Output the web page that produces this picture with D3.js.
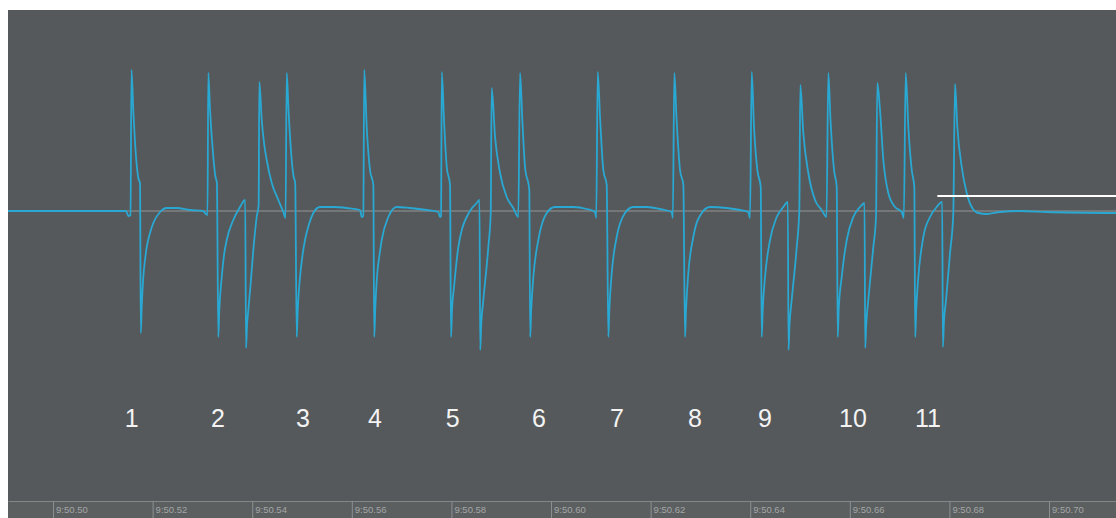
<!DOCTYPE html>
<html>
<head>
<meta charset="utf-8">
<script src="https://cdn.jsdelivr.net/npm/d3@7"></script>
<style>
  html, body { margin: 0; padding: 0; background: #ffffff; }
  svg { display: block; }
</style>
</head>
<body>
<svg id="chart" width="1116" height="518"></svg>
<script>
// Recorded trace: time in ms after 9:50.50, amplitude in mV
const traceTime = [
  -9.04, 14.66, 15.12, 15.56, 15.76, 16.12, 16.67, 17.13, 17.47, 17.63, 17.81, 18.13, 18.47, 18.82, 19.48, 20.14, 21.49, 22.83, 24.84, 27.51, 30.12, 30.72,
  31.02, 31.18, 31.53, 32.19, 32.59, 32.91, 33.19, 33.39, 33.88, 34.34, 34.88, 36.20, 37.55, 38.59,
  38.76, 38.96, 39.22, 39.66, 40.22, 40.90, 41.29, 41.43, 41.91, 42.37, 42.91, 43.92, 45.24, 46.24, 46.69,
  46.93, 47.29, 47.93, 48.29, 48.63, 48.94, 49.14, 49.60, 50.10, 50.60, 51.41, 52.27, 53.61, 56.29, 58.98, 61.65, 61.99,
  62.31, 62.49, 62.99, 63.65, 64.32, 64.50, 64.70, 65.12, 65.56, 66.00, 67.33, 69.02, 71.69, 75.04, 77.37, 77.71,
  77.91, 78.07, 78.51, 79.06, 79.72, 79.92, 80.12, 80.52, 81.39, 82.13, 83.07, 84.14, 85.08, 85.64,
  85.78, 85.98, 86.41, 87.41, 87.89, 88.09, 88.76, 89.76, 91.10, 92.43, 93.43,
  93.78, 94.24, 94.78, 95.64, 95.82, 96.02, 96.45, 97.45, 99.14, 100.80, 104.48, 107.17, 108.84, 109.08,
  109.38, 109.84, 110.50, 111.18, 111.51, 111.71, 112.19, 113.19, 114.86, 116.53, 119.22, 121.89, 124.24, 124.46,
  124.76, 125.20, 125.90, 126.57, 126.91, 127.11, 127.57, 128.57, 130.26, 131.93, 135.28, 137.95, 139.62, 139.96,
  140.30, 140.76, 141.43, 142.11, 142.31, 142.51, 142.97, 143.98, 145.32, 146.65, 147.55,
  147.69, 147.89, 148.33, 149.34, 149.86, 150.06, 150.66, 151.67, 153.01, 154.36, 155.32,
  155.68, 156.12, 156.83, 157.37, 157.57, 157.77, 158.37, 159.38, 160.70, 162.05, 162.95,
  163.09, 163.29, 163.71, 164.72, 165.26, 165.52, 166.06, 166.73, 167.73, 169.08, 170.42, 170.84,
  171.22, 171.75, 172.43, 172.95, 173.13, 173.33, 173.76, 174.76, 176.10, 177.45, 178.55,
  178.69, 178.90, 179.32, 180.12, 180.78, 181.12, 181.59, 182.47, 183.47, 184.48, 185.80, 187.49, 190.16, 194.18, 199.54, 213.45
];
const traceVoltage = [
  0.00, 0.00, -0.05, -0.04, 1.41, 1.01, 0.54, 0.33, 0.28, -1.22, -0.96, -0.66, -0.49, -0.36, -0.22, -0.12, -0.01, 0.03, 0.03, 0.01, 0.00, -0.03,
  -0.04, 1.38, 1.01, 0.54, 0.35, 0.28, -1.26, -0.99, -0.66, -0.44, -0.29, -0.09, 0.04, 0.11,
  -1.37, -1.14, -0.99, -0.74, -0.39, -0.06, 0.06, 1.29, 0.91, 0.68, 0.51, 0.28, 0.11, -0.01, -0.07,
  1.38, 1.01, 0.51, 0.35, 0.28, -1.26, -0.99, -0.66, -0.44, -0.29, -0.13, -0.02, 0.04, 0.04, 0.03, 0.01, -0.06,
  -0.05, 1.41, 0.84, 0.41, 0.26, -1.26, -0.99, -0.62, -0.44, -0.29, -0.06, 0.04, 0.03, 0.01, -0.01, -0.06,
  -0.05, 1.39, 0.91, 0.44, 0.26, -1.26, -0.99, -0.76, -0.36, -0.18, -0.06, 0.03, 0.08, 0.11,
  -1.39, -1.14, -0.89, -0.36, -0.02, 1.23, 0.74, 0.38, 0.14, 0.03, -0.06,
  1.38, 0.91, 0.44, 0.21, -1.26, -0.99, -0.66, -0.29, -0.02, 0.04, 0.04, 0.02, -0.01, -0.07,
  1.39, 0.94, 0.41, 0.26, -1.26, -0.99, -0.62, -0.26, -0.02, 0.04, 0.04, 0.02, -0.01, -0.07,
  1.38, 0.93, 0.41, 0.26, -1.26, -0.99, -0.62, -0.26, -0.02, 0.04, 0.03, 0.01, -0.01, -0.07,
  1.39, 0.84, 0.41, 0.24, -1.26, -0.99, -0.66, -0.29, -0.06, 0.04, 0.09,
  -1.39, -1.14, -0.89, -0.36, 0.01, 1.26, 0.78, 0.38, 0.11, 0.01, -0.06,
  1.38, 0.91, 0.41, 0.24, -1.26, -0.99, -0.66, -0.29, -0.06, 0.04, 0.08,
  -1.37, -1.14, -0.89, -0.36, -0.06, 1.28, 1.01, 0.51, 0.18, 0.04, -0.01, -0.07,
  1.38, 0.84, 0.41, 0.24, -1.26, -0.99, -0.66, -0.26, -0.06, 0.04, 0.09,
  -1.36, -1.11, -0.89, -0.42, -0.02, 1.27, 0.84, 0.44, 0.18, 0.04, -0.02, -0.03, -0.01, 0.00, -0.01, -0.02
];

// Numbered beats and where they sit on the time axis (ms)
const beatLabels = ["1", "2", "3", "4", "5", "6", "7", "8", "9", "10", "11"];
const beatTimes = [15.80, 33.13, 50.20, 64.66, 80.26, 97.59, 113.25, 128.92, 142.97, 160.64, 175.70];

// Time axis
const tickTimes = [0, 20, 40, 60, 80, 100, 120, 140, 160, 180, 200];
const tickLabels = ["9:50.50", "9:50.52", "9:50.54", "9:50.56", "9:50.58", "9:50.60",
                    "9:50.62", "9:50.64", "9:50.66", "9:50.68", "9:50.70"];

// Threshold marker (start/end time in ms, level in mV)
const markerTimes = [177.57, 213.45];
const markerLevel = [0.15, 0.15];

const W = 1116, H = 518;
const plot = { left: 8, top: 10, right: 1116, bottom: 501 };

const svg = d3.select("#chart");

const x = d3.scaleLinear().domain([-9.04, 213.45]).range([plot.left, plot.right]);
const y = d3.scaleLinear().domain([-2.9, 2.0]).range([plot.bottom, plot.top + 1]);

// Screen background
svg.append("rect")
  .attr("x", plot.left).attr("y", plot.top)
  .attr("width", plot.right - plot.left).attr("height", plot.bottom - plot.top)
  .attr("fill", "#56595b");

// Time strip
svg.append("rect")
  .attr("x", plot.left).attr("y", plot.bottom)
  .attr("width", plot.right - plot.left).attr("height", H - plot.bottom)
  .attr("fill", "#5c5f60");

// Zero reference
svg.append("line")
  .attr("x1", plot.left).attr("x2", plot.right)
  .attr("y1", y(0)).attr("y2", y(0))
  .attr("stroke", "#a3a6a7").attr("stroke-width", 1).attr("opacity", 0.8);

// Trace
const points = traceTime.map((t, i) => ({ t, v: traceVoltage[i] }));
const line = d3.line()
  .x(d => x(d.t))
  .y(d => y(d.v))
  .curve(d3.curveMonotoneX);

svg.append("path")
  .datum(points)
  .attr("d", line)
  .attr("fill", "none")
  .attr("stroke", "#29a8d3")
  .attr("stroke-width", 1.8)
  .attr("stroke-linejoin", "round");

// Threshold marker
svg.append("line")
  .attr("x1", x(markerTimes[0])).attr("x2", x(markerTimes[1]))
  .attr("y1", y(markerLevel[0])).attr("y2", y(markerLevel[1]))
  .attr("stroke", "#ffffff").attr("stroke-width", 2);

// Beat numbers
svg.append("g")
  .selectAll("text")
  .data(beatLabels)
  .join("text")
  .attr("x", (d, i) => x(beatTimes[i]))
  .attr("y", 427)
  .attr("text-anchor", "middle")
  .attr("font-family", "'Liberation Sans', Arial, sans-serif")
  .attr("font-size", 25)
  .attr("fill", "#f3f3f3")
  .text(d => d);

// Time axis along the bottom strip
const axis = d3.axisBottom(x)
  .tickValues(tickTimes)
  .tickFormat((d, i) => tickLabels[i])
  .tickSize(H - plot.bottom)
  .tickSizeOuter(0);

const axisG = svg.append("g")
  .attr("transform", `translate(0,${plot.bottom})`)
  .call(axis);

axisG.select(".domain").attr("stroke", "#83878a").attr("stroke-width", 1);
axisG.selectAll(".tick line").attr("stroke", "#8c9091").attr("stroke-width", 1);
axisG.selectAll(".tick text")
  .attr("x", 2.5)
  .attr("y", 12)
  .attr("dy", 0)
  .attr("text-anchor", "start")
  .attr("font-family", "'Liberation Sans', Arial, sans-serif")
  .attr("font-size", 9.5)
  .attr("fill", "#a2a6a7");
</script>
</body>
</html>
